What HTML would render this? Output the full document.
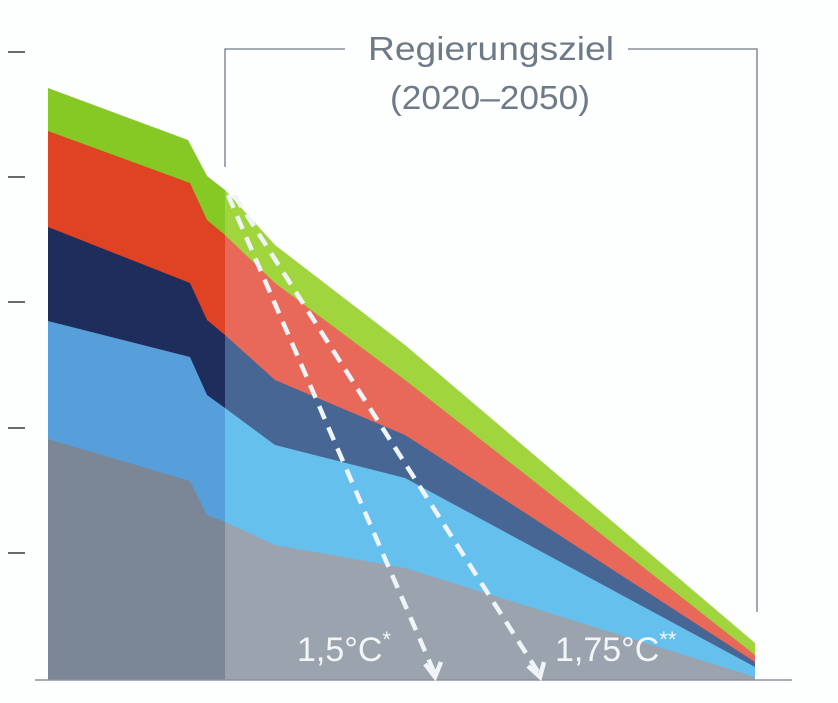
<!DOCTYPE html>
<html><head><meta charset="utf-8"><style>
html,body{margin:0;padding:0;background:#fdfefe;}
svg{display:block;font-family:"Liberation Sans",sans-serif;}
</style></head><body>
<svg width="838" height="703" viewBox="0 0 838 703">
<rect width="838" height="703" fill="#fdfefe"/>
<g stroke="#3a3a3a" stroke-width="1.5">
<line x1="8" y1="52" x2="25" y2="52"/><line x1="8" y1="177" x2="25" y2="177"/>
<line x1="8" y1="302" x2="25" y2="302"/><line x1="8" y1="428" x2="25" y2="428"/>
<line x1="8" y1="553" x2="25" y2="553"/>
</g>
<polygon fill="#86c925" points="48,88 188,140 207,176 225,190 225,680 48,680"/>
<polygon fill="#e04323" points="48,131 190,183 207,220 225,235 225,680 48,680"/>
<polygon fill="#1e2d5c" points="48,227 190,283 207,320 225,335 225,680 48,680"/>
<polygon fill="#579fdb" points="48,321 190,357 207,395 225,408 225,680 48,680"/>
<polygon fill="#7b8796" points="48,439 190,481 207,515 225,522 225,680 48,680"/>
<polygon fill="#a1d53d" points="225,190 275,245 405,345 755,643 755,680 225,680"/>
<polygon fill="#e8695a" points="225,235 275,283 405,380 755,655 755,680 225,680"/>
<polygon fill="#476694" points="225,335 275,380 405,435 755,662 755,680 225,680"/>
<polygon fill="#66c0ee" points="225,408 275,445 405,478 755,667 755,680 225,680"/>
<polygon fill="#9ba3ae" points="225,522 275,545 405,568 755,677 755,680 225,680"/>
<line x1="35" y1="680" x2="792" y2="680" stroke="#8a929c" stroke-width="1.5"/>
<g stroke="#6f7a87" stroke-width="1.3" fill="none">
<polyline points="225,167 225,49 345,49"/>
<polyline points="628,49 757,49 757,612"/>
</g>
<text x="368" y="60" font-size="33" fill="#6f7a87" textLength="246" lengthAdjust="spacingAndGlyphs">Regierungsziel</text>
<text x="390" y="109" font-size="33" fill="#6f7a87" textLength="200" lengthAdjust="spacingAndGlyphs">(2020–2050)</text>
<g stroke="#eef4f8" stroke-width="4.5" stroke-dasharray="14,9" fill="none">
<line x1="228" y1="195" x2="434" y2="672"/>
<line x1="234" y1="195" x2="538" y2="672"/>
</g>
<g stroke="#eef4f8" stroke-width="4.5" fill="none">
<polyline points="425,664 435,677 441,662"/>
<polyline points="528,666 540,677 544,662"/>
</g>
<text x="297" y="661" font-size="34" fill="#f3f6f8">1,5°C<tspan font-size="22" dy="-14">*</tspan></text>
<text x="555" y="661" font-size="34" fill="#f3f6f8">1,75°C<tspan font-size="22" dy="-14">**</tspan></text>
</svg>
</body></html>
